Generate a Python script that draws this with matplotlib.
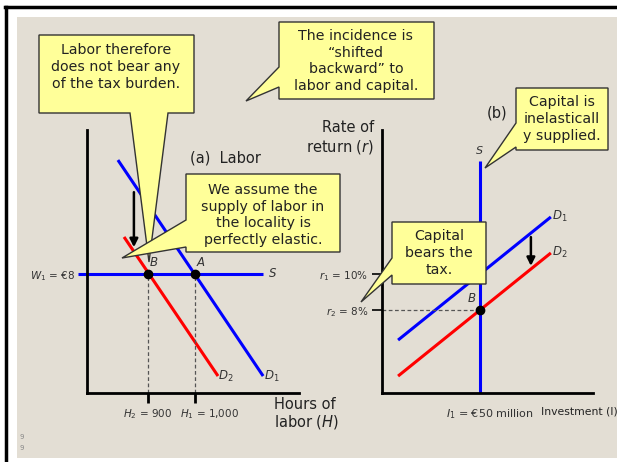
import matplotlib
matplotlib.use("Agg")
import matplotlib.pyplot as plt
from matplotlib.patches import Polygon, Rectangle
from matplotlib.transforms import ScaledTranslation

plt.rcParams['font.family'] = ['DejaVu Sans']
plt.rcParams['mathtext.fontset'] = 'dejavusans'

# ---------------- data ----------------
# Labor market (panel a)
W1 = 8
H1, H2 = 1000, 900
labor_S_x = [751, 1145]
labor_S_y = [W1, W1]
labor_D1_x = [836, 1145]
labor_D1_y = [15.66, 1.14]
labor_D2_x = [849, 1049]
labor_D2_y = [10.49, 1.14]
labor_arrow_x = 870
labor_arrow_y = [13.5, 9.8]

# Capital market (panel b)
I1 = 50
r1, r2 = 10, 8
cap_S_x = [I1, I1]
cap_S_y = [3.39, 16.28]
cap_D1_x = [8.2, 86.2]
cap_D1_y = [6.33, 13.17]
cap_D2_x = [8.2, 86.2]
cap_D2_y = [4.33, 11.17]
cap_arrow_x = 76
cap_arrow_y = [12.05, 10.45]

BLUE = '#0000ff'
RED = '#ff0000'
BEIGE = '#e3ded4'
YELLOW = '#ffff99'

W, Hh = 617, 462
fig = plt.figure(figsize=(W / 100, Hh / 100), dpi=100)
fig.patch.set_facecolor('white')

def fx(x):
    return x / W

def fy(y):
    return 1 - y / Hh

# background & frame (drawn in a bottom-most axes)
bg = fig.add_axes([0, 0, 1, 1], zorder=-5)
bg.set_xlim(0, W)
bg.set_ylim(Hh, 0)
bg.axis('off')
bg.add_patch(Rectangle((17, 17), W - 17, 458 - 17, facecolor=BEIGE, edgecolor='none'))
bg.plot([5, W], [7, 7], color='black', lw=2.5)
bg.plot([6, 6], [7, Hh], color='black', lw=2.5)

def make_axes(x0, x1, y0, y1):
    ax = fig.add_axes([fx(x0), fy(y1), fx(x1) - fx(x0), fy(y0) - fy(y1)], zorder=1)
    ax.patch.set_alpha(0)
    for s in ['top', 'right']:
        ax.spines[s].set_visible(False)
    for s in ['left', 'bottom']:
        ax.spines[s].set_linewidth(2)
        ax.spines[s].set_color('black')
    return ax

def shift(label, dx_px, dy_px=0):
    label.set_transform(label.get_transform() +
                        ScaledTranslation(dx_px / 100, dy_px / 100, fig.dpi_scale_trans))

LBL = '#333333'

# ---------------- panel a: labor ----------------
axL = make_axes(87, 299, 130, 393)
axL.set_xlim(770.2, 1221.3)
axL.set_ylim(0, 17.68)
axL.plot(labor_S_x, labor_S_y, color=BLUE, lw=2.2, clip_on=False, solid_capstyle='butt')
axL.plot(labor_D1_x, labor_D1_y, color=BLUE, lw=2.2, solid_capstyle='butt')
axL.plot(labor_D2_x, labor_D2_y, color=RED, lw=2.2, solid_capstyle='butt')
axL.plot([H2, H2], [0, W1], color='#555555', lw=0.9, ls=(0, (3, 2)))
axL.plot([H1, H1], [0, W1], color='#555555', lw=0.9, ls=(0, (3, 2)))
axL.plot([H2, H1], [W1, W1], 'o', color='black', ms=6)
axL.annotate('', xy=(labor_arrow_x, labor_arrow_y[1]), xytext=(labor_arrow_x, labor_arrow_y[0]),
             arrowprops=dict(arrowstyle='-|>', color='black', lw=1.8, mutation_scale=12,
                             shrinkA=0, shrinkB=0))
axL.set_xticks([H2, H1])
axL.set_xticklabels(['$H_2$ = 900', '$H_1$ = 1,000'], fontsize=7.5, color=LBL)
axL.tick_params(axis='x', length=7.2, width=2, direction='out', pad=3)
shift(axL.get_xticklabels()[1], 14)
axL.set_yticks([W1])
axL.set_yticklabels(['$W_1$ = €8'], fontsize=7.5, color=LBL)
axL.tick_params(axis='y', length=0, pad=8.5)
axL.text(H2 + 3, W1 + 0.35, 'B', fontsize=8.5, style='italic', color=LBL, va='bottom')
axL.text(H1 + 3, W1 + 0.35, 'A', fontsize=8.5, style='italic', color=LBL, va='bottom')
axL.text(labor_S_x[1] + 12, W1, 'S', fontsize=8.5, style='italic', color=LBL, va='center')
axL.text(labor_D2_x[1] + 1, labor_D2_y[1], '$D_2$', fontsize=8.5, color=LBL, va='center')
axL.text(labor_D1_x[1] + 1, labor_D1_y[1], '$D_1$', fontsize=8.5, color=LBL, va='center')

# ---------------- panel b: capital ----------------
axC = make_axes(382, 593, 130, 393)
axC.set_xlim(0, 107.7)
axC.set_ylim(3.39, 18.0)
axC.plot(cap_D1_x, cap_D1_y, color=BLUE, lw=2.2, solid_capstyle='butt')
axC.plot(cap_D2_x, cap_D2_y, color=RED, lw=2.2, solid_capstyle='butt')
axC.plot(cap_S_x, cap_S_y, color=BLUE, lw=2.2, clip_on=False, solid_capstyle='butt')
axC.plot([0, I1], [r2, r2], color='#555555', lw=0.9, ls=(0, (3, 2)))
axC.plot([I1], [r2], 'o', color='black', ms=6)
axC.annotate('', xy=(cap_arrow_x, cap_arrow_y[1]), xytext=(cap_arrow_x, cap_arrow_y[0]),
             arrowprops=dict(arrowstyle='-|>', color='black', lw=1.8, mutation_scale=12,
                             shrinkA=0, shrinkB=0))
axC.set_yticks([r1, r2])
axC.set_yticklabels(['$r_1$ = 10%', '$r_2$ = 8%'], fontsize=7.5, color=LBL)
axC.tick_params(axis='y', length=7.2, width=1.2, direction='out', pad=3)
axC.set_xticks([I1])
axC.set_xticklabels(['$I_1$ = €50 million'], fontsize=8, color=LBL)
axC.tick_params(axis='x', length=0, pad=10)
shift(axC.get_xticklabels()[0], 10)
axC.text(I1 - 2, r2 + 0.3, 'B', fontsize=8.5, style='italic', color=LBL, ha='right', va='bottom')
axC.text(I1, cap_S_y[1] + 0.25, 'S', fontsize=8, style='italic', color=LBL, ha='center', va='bottom')
axC.text(cap_D1_x[1] + 0.5, cap_D1_y[1], '$D_1$', fontsize=8.5, color=LBL, va='center')
axC.text(cap_D2_x[1] + 0.5, cap_D2_y[1], '$D_2$', fontsize=8.5, color=LBL, va='center')

# ---------------- overlay for texts & callouts ----------------
ov = fig.add_axes([0, 0, 1, 1], zorder=3)
ov.set_xlim(0, W)
ov.set_ylim(Hh, 0)
ov.axis('off')
ov.patch.set_alpha(0)

TXT = '#222222'
ov.text(190, 158, '(a)  Labor', fontsize=10.5, color=TXT, va='center', ha='left')
ov.text(274, 414, 'Hours of\nlabor ($H$)', fontsize=10.5, color=TXT, va='center', ha='left',
        linespacing=1.1)
ov.text(374, 138, 'Rate of\nreturn ($r$)', fontsize=10.5, color=TXT, va='center', ha='right',
        linespacing=1.15)
ov.text(497, 113, '(b)', fontsize=10.5, color=TXT, va='center', ha='center')
ov.text(541, 412, 'Investment (I)', fontsize=7.8, color=TXT, va='center', ha='left')
ov.text(22, 437, '9', fontsize=5, color='#888888', va='center', ha='center')
ov.text(22, 448, '9', fontsize=5, color='#888888', va='center', ha='center')

def callout(verts, text, cx, cy, fs=10.2):
    ov.add_patch(Polygon(verts, closed=True, facecolor=YELLOW, edgecolor='#333333',
                         lw=1.0, zorder=5))
    ov.text(cx, cy, text, fontsize=fs, color=TXT, ha='center', va='center',
            linespacing=1.25, zorder=6)

callout([(279, 22), (434, 22), (434, 99), (279, 99), (279, 87), (246, 101), (279, 67)],
        'The incidence is\n\u201cshifted\nbackward\u201d to\nlabor and capital.', 356, 61)
callout([(39, 35), (194, 35), (194, 113), (168, 113), (149, 262), (130, 113), (39, 113)],
        'Labor therefore\ndoes not bear any\nof the tax burden.', 116, 67)
callout([(186, 174), (340, 174), (340, 252), (186, 252), (186, 247), (122, 258), (186, 220)],
        'We assume the\nsupply of labor in\nthe locality is\nperfectly elastic.', 263, 215)
callout([(516, 88), (608, 88), (608, 150), (516, 150), (516, 147), (485, 168), (516, 123)],
        'Capital is\ninelasticall\ny supplied.', 562, 119)
callout([(392, 222), (486, 222), (486, 284), (392, 284), (392, 275), (361, 302), (392, 258)],
        'Capital\nbears the\ntax.', 439, 253)

fig.savefig('out.png', dpi=100)
